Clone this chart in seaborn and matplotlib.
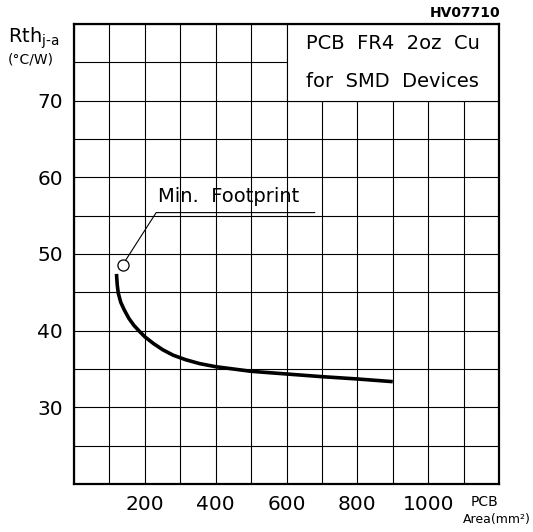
"""Rth j-a vs PCB copper area"""

import matplotlib
matplotlib.use('Agg')
import matplotlib.pyplot as plt
import seaborn as sns
import pandas as pd
from matplotlib.patches import Rectangle

# values
area = [120, 122, 125, 132, 142, 155, 169, 185, 200, 225, 251, 280, 316, 355, 400,
        450, 500, 600, 700, 800, 900]
rth = [47.4, 46.0, 44.9, 43.7, 42.7, 41.6, 40.7, 39.9, 39.2, 38.3, 37.5, 36.8, 36.2,
       35.7, 35.3, 35.0, 34.7, 34.35, 34.0, 33.7, 33.35]
x_ticks = [200, 400, 600, 800, 1000]
y_ticks = [30, 40, 50, 60, 70]
footprint = (137, 48.6)

sns.set_style('white')
plt.rcParams['font.family'] = ['DejaVu Sans']
plt.rcParams['text.color'] = 'black'
plt.rcParams['xtick.color'] = 'black'
plt.rcParams['ytick.color'] = 'black'

fig = plt.figure(figsize=(5.33, 5.32), dpi=100)
ax = fig.add_axes([74 / 533, 48 / 532, 425 / 533, 460 / 532])

df = pd.DataFrame({'area': area, 'rth': rth})
sns.lineplot(data=df, x='area', y='rth', ax=ax, color='black', linewidth=2.6,
             zorder=3, solid_capstyle='butt')

ax.set_xlim(0, 1200)
ax.set_ylim(20, 80)
ax.set_xticks(range(0, 1201, 100))
ax.set_yticks(range(20, 81, 5))
ax.set_xticklabels([str(v) if v in x_ticks else '' for v in range(0, 1201, 100)])
ax.set_yticklabels([str(v) if v in y_ticks else '' for v in range(20, 81, 5)])
ax.tick_params(length=0, labelsize=14.5, pad=8)
ax.set_xlabel('')
ax.set_ylabel('')
ax.grid(True, color='black', linewidth=0.8)
ax.set_axisbelow(True)
for s in ax.spines.values():
    s.set_color('black')
    s.set_linewidth(1.6)

# text box in upper right corner hides the grid
ax.add_patch(Rectangle((600, 70), 600, 10, facecolor='white', edgecolor='black',
                       linewidth=0.8, zorder=1))
ax.text(900, 77.4, 'PCB  FR4  2oz  Cu', ha='center', va='center', fontsize=14, zorder=4)
ax.text(900, 72.5, 'for  SMD  Devices', ha='center', va='center', fontsize=14, zorder=4)

# min footprint marker and leader
ax.plot(*footprint, marker='o', ms=8, mfc='white', mec='black', mew=0.9, zorder=4)
ax.plot([146, 232, 680], [49.2, 55.4, 55.4], color='black', linewidth=0.8, zorder=4)
ax.text(236, 56.3, 'Min.  Footprint', ha='left', va='bottom', fontsize=14, zorder=4)

fig.text(8 / 533, 1 - 38 / 532, r'Rth$_{\mathregular{j\text{-}a}}$', fontsize=14, va='center')
fig.text(8 / 533, 1 - 60 / 532, '(°C/W)', fontsize=10, va='center')
fig.text(500 / 533, 1 - 13 / 532, 'HV07710', fontsize=10, ha='right', va='center',
         fontweight='bold')
fig.text(485 / 533, 1 - 502 / 532, 'PCB', fontsize=10, ha='center', va='center')
fig.text(531 / 533, 1 - 520 / 532, 'Area(mm²)', fontsize=9, ha='right', va='center')

fig.savefig('out.png', dpi=100)
